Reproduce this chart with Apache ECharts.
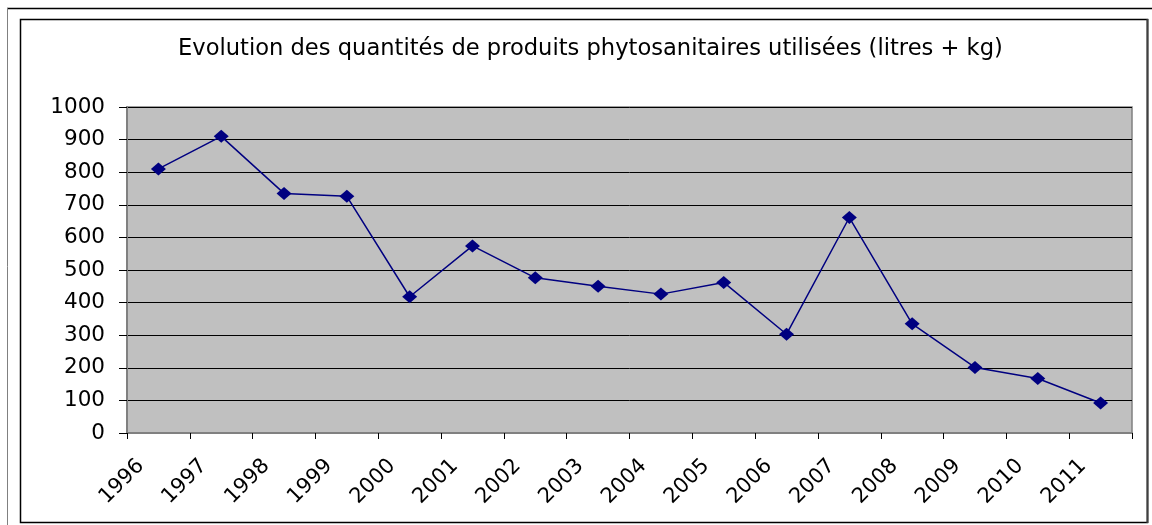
<!DOCTYPE html>
<html>
<head>
<meta charset="utf-8">
<script src="https://cdn.jsdelivr.net/npm/echarts@6/dist/echarts.min.js"></script>
<style>
  html, body { margin: 0; padding: 0; background: #fff; }
  #chart { width: 1152px; height: 525px; }
</style>
</head>
<body>
<div id="chart"></div>
<script>
// Chart data
const years = ["1996", "1997", "1998", "1999", "2000", "2001", "2002", "2003",
  "2004", "2005", "2006", "2007", "2008", "2009", "2010", "2011"];
const quantities = [810, 910, 735, 726, 418, 574, 476, 450, 426, 462, 303, 661, 335, 201, 167, 92];
const titleText = "Evolution des quantités de produits phytosanitaires utilisées (litres + kg)";

const chart = echarts.init(document.getElementById("chart"));
const option = {
  animation: false,
  backgroundColor: "#ffffff",
  textStyle: { fontFamily: "DejaVu Sans" },
  title: {
    text: titleText,
    left: 173,
    top: 33,
    textStyle: {
      fontFamily: "DejaVu Sans",
      fontSize: 22.6,
      fontWeight: "normal",
      color: "#000",
    },
  },
  graphic: [
    { type: "line", shape: { x1: 7, y1: 8.5, x2: 1152, y2: 8.5 }, style: { stroke: "#000", lineWidth: 1.5 } },
    { type: "line", shape: { x1: 7.5, y1: 8, x2: 7.5, y2: 525 }, style: { stroke: "#808080", lineWidth: 1 } },
    { type: "rect", shape: { x: 20.5, y: 19.5, width: 1127, height: 503 }, style: { fill: "none", stroke: "#000", lineWidth: 1.5 } },
    { type: "line", shape: { x1: 1147.5, y1: 19, x2: 1147.5, y2: 523 }, style: { stroke: "#404040", lineWidth: 2 } },
  ],
  grid: {
    left: 127,
    right: 20,
    top: 107,
    bottom: 92,
    show: true,
    backgroundColor: "#c0c0c0",
    borderColor: "#808080",
    borderWidth: 1.5,
  },
  xAxis: {
    type: "category",
    data: years,
    boundaryGap: true,
    axisLine: { lineStyle: { color: "#808080", width: 2 } },
    axisTick: { show: true, length: 6, lineStyle: { color: "#000" } },
    axisLabel: {
      rotate: 45,
      margin: 12,
      padding: [0, 25, 0, 0],
      fontFamily: "DejaVu Sans",
      fontSize: 21,
      color: "#000",
    },
  },
  yAxis: {
    type: "value",
    min: 0,
    max: 1000,
    interval: 100,
    axisLine: { show: true, lineStyle: { color: "#808080", width: 2 } },
    axisTick: { show: true, length: 8, lineStyle: { color: "#000" } },
    axisLabel: {
      margin: 22,
      fontFamily: "DejaVu Sans",
      fontSize: 21.5,
      color: "#000",
      formatter: function (v) {
        return String(v);
      },
    },
    splitLine: { lineStyle: { color: "#000", width: 1 } },
  },
  series: [
    {
      type: "line",
      data: quantities,
      symbol: "diamond",
      symbolSize: [15, 13],
      lineStyle: { color: "#000080", width: 1.5 },
      itemStyle: { color: "#000080" },
    },
  ],
};
chart.setOption(option);
</script>
</body>
</html>
